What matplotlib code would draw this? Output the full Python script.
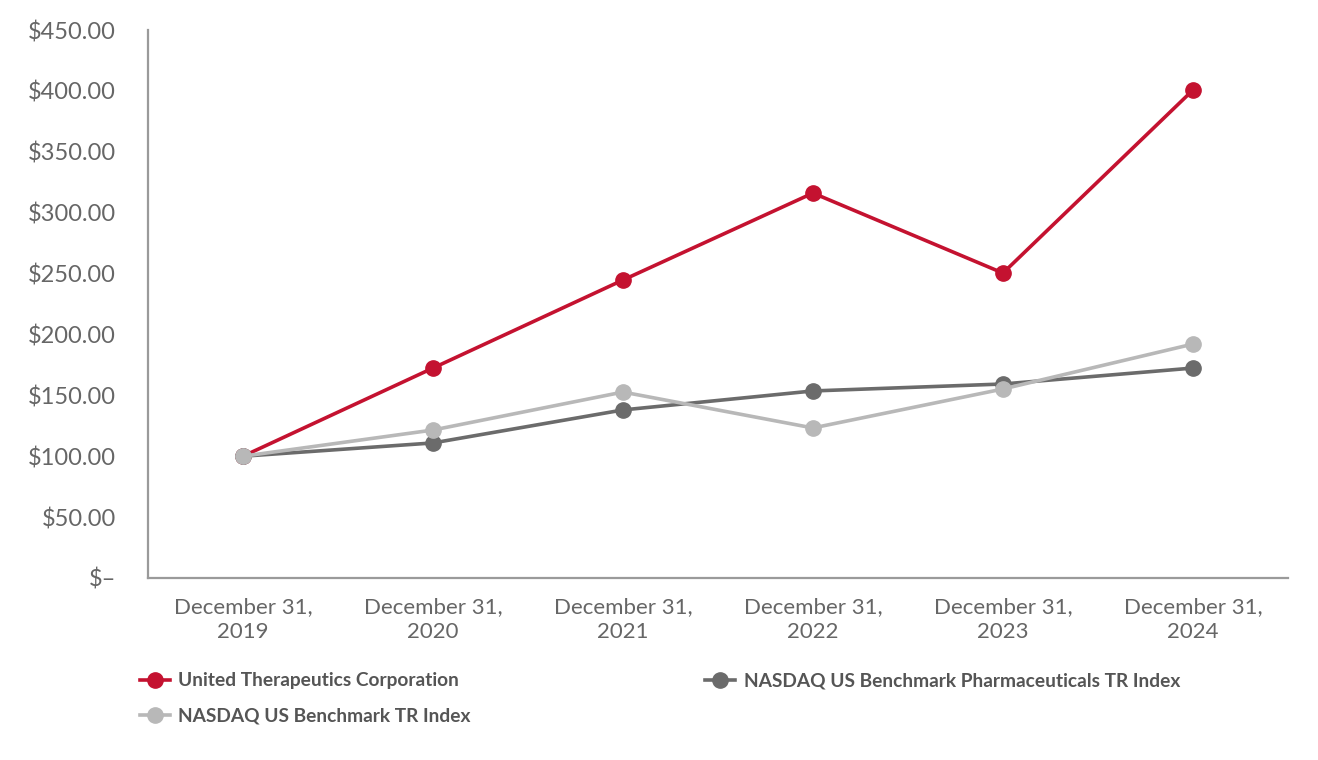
import numpy as np
import matplotlib
matplotlib.use('Agg')
import matplotlib.pyplot as plt
from matplotlib.ticker import FuncFormatter

# data
dates = ['December 31,\n2019', 'December 31,\n2020', 'December 31,\n2021',
         'December 31,\n2022', 'December 31,\n2023', 'December 31,\n2024']
uthr = [100.00, 172.4, 244.7, 316.1, 250.4, 400.7]
pharma = [100.00, 110.9, 138.0, 153.6, 159.3, 172.4]
nasdaq = [100.00, 121.5, 152.7, 123.2, 155.2, 192.1]
yticks = [0, 50, 100, 150, 200, 250, 300, 350, 400, 450]

red = '#C41230'
dark = '#6B6B6B'
light = '#B8B8B8'
txt = '#666666'

plt.rcParams['font.family'] = ['Lato', 'DejaVu Sans']

fig = plt.figure(figsize=(13.18, 7.6), dpi=100)
ax = fig.add_axes([0.1123, 0.2395, 0.8649, 0.721])

x = np.arange(len(dates))
l1, = ax.plot(x, uthr, color=red, lw=2.6, marker='o', ms=11, zorder=3,
              label='United Therapeutics Corporation')
l2, = ax.plot(x, pharma, color=dark, lw=2.6, marker='o', ms=11, zorder=4,
              label='NASDAQ US Benchmark Pharmaceuticals TR Index')
l3, = ax.plot(x, nasdaq, color=light, lw=2.6, marker='o', ms=11, zorder=5,
              label='NASDAQ US Benchmark TR Index')

ax.set_xlim(-0.5, 5.5)
ax.set_ylim(0, 450)
ax.set_yticks(yticks)
ax.yaxis.set_major_formatter(FuncFormatter(lambda v, p: '$–' if v == 0 else '${:,.2f}'.format(v)))
ax.set_xticks(x)
ax.set_xticklabels(dates)

for s in ['top', 'right']:
    ax.spines[s].set_visible(False)
for s in ['left', 'bottom']:
    ax.spines[s].set_color('#9A9A9A')
    ax.spines[s].set_linewidth(1.6)

ax.tick_params(axis='y', length=0, pad=23, labelsize=17, labelcolor=txt)
ax.tick_params(axis='x', length=0, pad=14, labelsize=16, labelcolor=txt)
for lab in ax.get_xticklabels():
    lab.set_linespacing(1.3)

leg = fig.legend(handles=[l1, l3, l2], loc='upper left', bbox_to_anchor=(0.093, 0.138),
                 ncol=2, frameon=False, handlelength=1.55, handletextpad=0.45,
                 columnspacing=12.25, labelspacing=0.95,
                 prop={'size': 13.8, 'weight': 'bold'})
for t in leg.get_texts():
    t.set_color('#555555')

fig.savefig('out.png', dpi=100)
